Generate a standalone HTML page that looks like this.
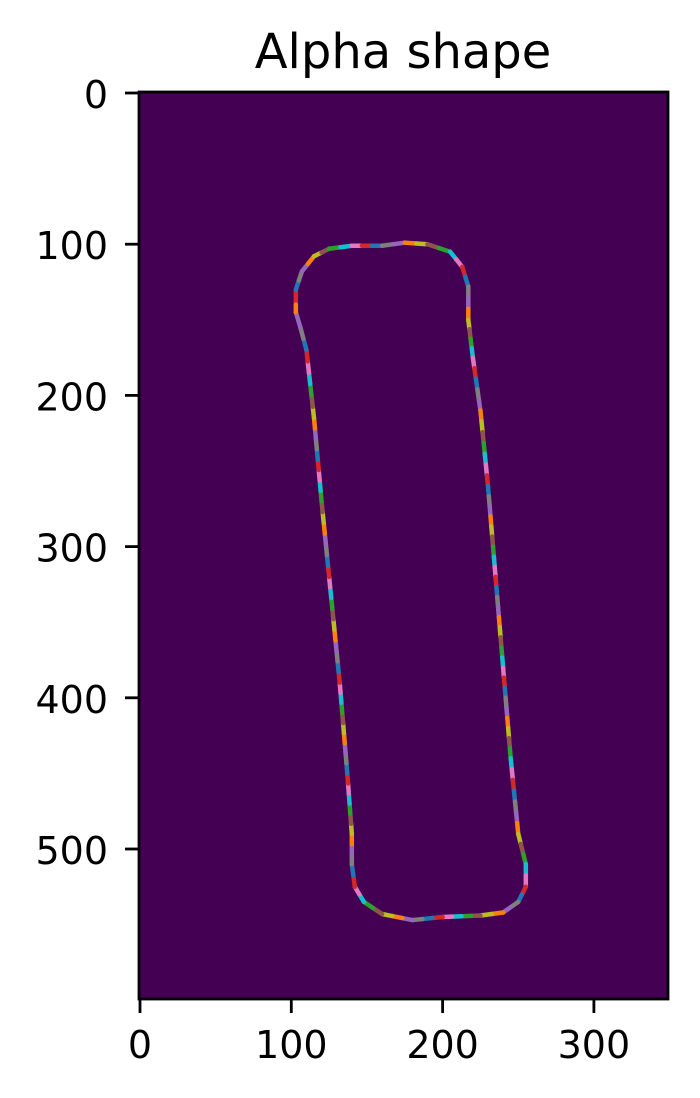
<!DOCTYPE html>
<html><head><meta charset="utf-8"><style>
body{margin:0;background:#fff;}
svg{display:block;font-family:"DejaVu Sans","Liberation Sans",sans-serif;}
</style></head><body>
<svg id="chart" width="700" height="1098">
<text x="403" y="68" font-size="48" text-anchor="middle">Alpha shape</text>
<rect x="139" y="92" width="529" height="907" fill="#440154"/>
<g id="marks"></g>
<g id="axes"></g>
<rect x="139" y="92" width="529" height="907" fill="none" stroke="#000" stroke-width="2.8"/>
</svg>
<script>
const xTicks=[0,100,200,300];
const yTicks=[0,100,200,300,400,500];
const contourX=[103,103,107,115,125,140,160,175,190,205,213,217,217,220,225,230,235,240,245,250,255,255,250,240,225,200,180,160,148,142,140,140,137,132,125,120,115,110,106,103];
const contourY=[140,130,118,108,103,101,101,99,100,105,115,128,150,175,210,260,320,380,440,490,510,525,535,542,544,545,547,543,535,525,510,490,450,390,320,270,215,170,155,145];
const colorCycle=['#1f77b4','#ff7f0e','#2ca02c','#d62728','#9467bd','#8c564b','#e377c2','#7f7f7f','#bcbd22','#17becf'];
const X0=140,Y0=93,SX=1.513,SY=1.512;
function sx(v){return X0+v*SX;}
function sy(v){return Y0+v*SY;}
const NS='http://www.w3.org/2000/svg';
const marks=document.getElementById('marks');
const axes=document.getElementById('axes');
let k=0;
const n=contourX.length;
for(let i=0;i<n;i++){
  const j=(i+1)%n;
  const x1=contourX[i],y1=contourY[i],x2=contourX[j],y2=contourY[j];
  const len=Math.hypot(x2-x1,y2-y1);
  const pieces=Math.max(1,Math.round(len/7));
  for(let p=0;p<pieces;p++){
    const a=p/pieces,b=(p+1)/pieces;
    const l=document.createElementNS(NS,'line');
    l.setAttribute('x1',sx(x1+(x2-x1)*a));l.setAttribute('y1',sy(y1+(y2-y1)*a));
    l.setAttribute('x2',sx(x1+(x2-x1)*b));l.setAttribute('y2',sy(y1+(y2-y1)*b));
    l.setAttribute('stroke',colorCycle[(k*7+3)%10]);
    l.setAttribute('stroke-width','4.5');
    l.setAttribute('stroke-linecap','round');
    
    
    marks.appendChild(l);k++;
  }
}
xTicks.forEach(t=>{
  const ln=document.createElementNS(NS,'line');
  ln.setAttribute('x1',sx(t));ln.setAttribute('x2',sx(t));ln.setAttribute('y1',999);ln.setAttribute('y2',1013);
  ln.setAttribute('stroke','#000');ln.setAttribute('stroke-width','2.8');
  
  
  axes.appendChild(ln);
  const tx=document.createElementNS(NS,'text');
  tx.setAttribute('x',sx(t));tx.setAttribute('y',1058);tx.setAttribute('text-anchor','middle');tx.setAttribute('font-size','38');
  tx.textContent=t;
  
  
  axes.appendChild(tx);
});
yTicks.forEach(t=>{
  const ln=document.createElementNS(NS,'line');
  ln.setAttribute('x1',125);ln.setAttribute('x2',139);ln.setAttribute('y1',sy(t));ln.setAttribute('y2',sy(t));
  ln.setAttribute('stroke','#000');ln.setAttribute('stroke-width','2.8');
  
  
  axes.appendChild(ln);
  const tx=document.createElementNS(NS,'text');
  tx.setAttribute('x',108);tx.setAttribute('y',sy(t)+15);tx.setAttribute('text-anchor','end');tx.setAttribute('font-size','38');
  tx.textContent=t;
  
  
  axes.appendChild(tx);
});
</script>
</body></html>
